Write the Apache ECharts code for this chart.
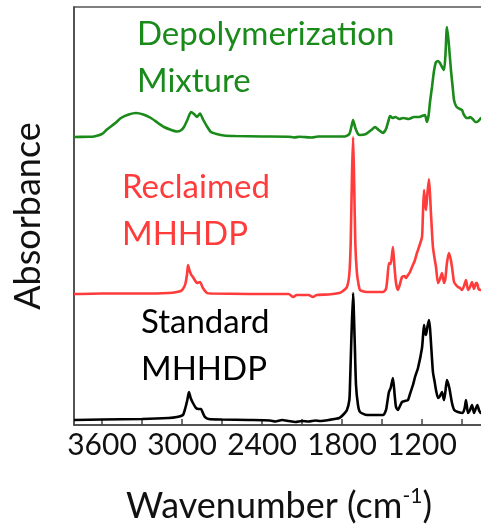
<!DOCTYPE html>
<html>
<head>
<meta charset="utf-8">
<script src="https://cdn.jsdelivr.net/npm/echarts@6/dist/echarts.min.js"></script>
<style>
  html, body { margin: 0; padding: 0; background: #fff; }
  #chart { width: 481px; height: 524px; }
</style>
</head>
<body>
<div id="chart"></div>
<script>
// tick labels on the wavenumber axis
var tickLabels = [3600, 3000, 2400, 1800, 1200];
var tickMarks = [900, 1200, 1500, 1800, 2100, 2400, 2700, 3000, 3300, 3600];

// spectra: [wavenumber, absorbance (arb.)], each relative to its own baseline
var mixture = [
	[3810,0],[3700,0.3],[3660,0.6],[3600,3],[3563,7.5],[3500,14],[3458,19],[3400,22.5],[3345,24],[3290,22.5],
	[3233,19],[3180,14],[3135,10],[3080,7],[3038,5.5],[3010,6.5],[2985,10],[2960,17],[2933,25],[2910,23],
	[2887,20],[2865,23.5],[2840,17],[2810,10],[2783,5],[2740,3],[2685,1.5],[2600,1],[2400,0.5],[2200,0.3],
	[2160,-0.5],[2120,0.3],[2025,-0.5],[1980,0.5],[1890,0.5],[1780,0.5],[1745,3],[1730,10],[1717,17],[1700,9],
	[1680,3],[1665,2],[1620,3],[1580,7],[1552,10],[1525,7],[1493,4],[1470,8],[1450,17],[1440,21],
	[1420,19],[1400,20],[1370,18],[1340,19],[1300,18],[1260,20],[1220,20],[1200,21],[1178,22],[1163,15],
	[1150,22],[1140,35],[1125,50],[1110,66],[1095,75],[1080,76],[1065,74],[1050,70],[1035,67],[1025,80],
	[1013,110],[1000,95],[983,67],[970,50],[960,37],[945,31],[930,29],[915,28],[900,27],[885,22],
	[863,19],[850,19],[840,20],[820,18],[800,15],[788,15],[770,17],[757,19],[735,19]
];
var reclaimed = [
	[3810,0],[3600,0.5],[3300,0.5],[3100,1],[3038,2],[3010,3],[2993,5],[2975,10],[2962,20],[2955,29],
	[2945,24],[2930,19],[2918,17],[2900,13],[2888,11],[2865,12],[2843,6],[2813,1],[2780,0.5],[2500,0],
	[2200,0],[2168,-3],[2140,-1],[2050,-1],[2018,-3],[1990,-1],[1900,-0.5],[1820,1],[1793,3],[1763,7],
	[1745,20],[1735,50],[1725,120],[1717,157],[1710,120],[1700,50],[1688,21],[1675,9],[1665,4],[1620,2],
	[1530,2],[1493,2],[1470,5],[1460,15],[1448,31],[1435,30],[1418,47],[1408,30],[1395,11],[1380,4],
	[1365,10],[1350,17],[1330,18],[1320,16],[1305,19],[1290,22],[1275,27],[1255,33],[1238,41],[1220,48],
	[1200,57],[1193,80],[1185,104],[1178,92],[1170,84],[1160,100],[1148,115],[1140,100],[1133,81],[1118,47],
	[1105,35],[1095,27],[1080,11],[1065,15],[1050,21],[1035,11],[1025,15],[1013,31],[998,41],[985,35],
	[975,27],[960,12],[945,9],[930,7],[915,6],[900,4],[885,8],[870,14],[855,4],[840,7],
	[825,12],[810,5],[795,11],[788,11],[775,5],[757,4],[735,5]
];
var standard = [
	[3810,0],[3600,0.5],[3300,1],[3100,2],[3038,3],[2993,5],[2975,12],[2960,20],[2948,28],[2935,22],
	[2918,17],[2895,12],[2875,11],[2858,11],[2840,6],[2828,3],[2800,1],[2700,0.5],[2500,0],[2340,-0.5],
	[2300,-1.5],[2250,0],[2200,-1],[2150,-2],[2100,-1],[2050,-1.5],[2000,-0.5],[1965,-1],[1900,0],[1820,2],
	[1793,5],[1763,10],[1745,20],[1740,35],[1730,80],[1717,127],[1705,80],[1695,35],[1680,15],[1665,8],
	[1613,5],[1493,5],[1470,10],[1460,18],[1448,28],[1435,32],[1418,42],[1405,25],[1395,13],[1380,10],
	[1365,14],[1350,18],[1330,19],[1305,20],[1290,26],[1268,35],[1250,44],[1230,52],[1200,72],[1192,85],
	[1185,95],[1178,88],[1170,85],[1160,93],[1148,100],[1140,92],[1133,78],[1118,48],[1105,38],[1095,30],
	[1080,22],[1065,24],[1050,28],[1035,20],[1025,28],[1013,40],[995,32],[975,17],[958,10],[930,8],
	[895,7],[880,12],[870,20],[855,7],[840,10],[825,15],[810,7],[795,12],[785,15],[770,9],
	[757,7],[735,8]
];
// vertical stacking offsets of the traces
var offsets = { mixture: 288, reclaimed: 131, standard: 5 };

function shift(arr, off) {
	return arr.map(function (p) { return [p[0], p[1] + off]; });
}

var FONT = 'Lato, "Open Sans", sans-serif';

var myChart = echarts.init(document.getElementById('chart'), null, { renderer: 'canvas' });
myChart.setOption({
	animation: false,
	grid: {
		left: 74, top: 7, right: -3, bottom: 99,
		outerBoundsMode: 'none',
		show: true, borderColor: '#555', borderWidth: 1.5
	},
	xAxis: {
		type: 'value',
		inverse: true,
		min: 735,
		max: 3810,
		name: 'Wavenumber (cm{s|-1})',
		nameLocation: 'middle',
		nameGap: 61,
		nameTextStyle: {
			color: '#111', fontSize: 36, fontFamily: FONT,
			rich: { s: { fontSize: 21, fontFamily: FONT, color: '#111', verticalAlign: 'top', padding: [0, 0, 20, 0] } }
		},
		axisLine: { lineStyle: { color: '#444', width: 1.5 } },
		axisTick: { inside: true, length: 6, customValues: tickMarks, lineStyle: { color: '#444', width: 1.5 } },
		axisLabel: {
			customValues: tickLabels, margin: 5, color: '#111', fontSize: 30, fontFamily: FONT,
			formatter: function (v) { return String(v); }
		},
		splitLine: { show: false }
	},
	yAxis: {
		type: 'value',
		min: 0,
		max: 418,
		name: 'Absorbance',
		nameLocation: 'middle',
		nameGap: 28,
		nameTextStyle: { color: '#111', fontSize: 36, fontFamily: FONT },
		axisLine: { show: true, lineStyle: { color: '#444', width: 1.5 } },
		axisTick: { show: false },
		axisLabel: { show: false },
		splitLine: { show: false }
	},
	graphic: [
		{ type: 'text', left: 137, top: 11, style: { text: 'Depolymerization\nMixture', fill: '#1a8a1a', font: '33px ' + FONT, lineHeight: 47 } },
		{ type: 'text', left: 122, top: 164, style: { text: 'Reclaimed\nMHHDP', fill: '#ff3b3b', font: '33px ' + FONT, lineHeight: 47 } },
		{ type: 'text', left: 141, top: 299, style: { text: 'Standard\nMHHDP', fill: '#000', font: '33px ' + FONT, lineHeight: 47 } }
	],
	series: [{
		name: 'Reclaimed MHHDP',
		type: 'line',
		showSymbol: false,
		smooth: 0.2,
		lineStyle: { color: '#ff3b3b', width: 2.6 },
		data: shift(reclaimed, offsets.reclaimed)
	}, {
		name: 'Depolymerization Mixture',
		type: 'line',
		showSymbol: false,
		smooth: 0.2,
		lineStyle: { color: '#1a8a1a', width: 2.6 },
		data: shift(mixture, offsets.mixture)
	}, {
		name: 'Standard MHHDP',
		type: 'line',
		showSymbol: false,
		smooth: 0.2,
		lineStyle: { color: '#000', width: 2.6 },
		data: shift(standard, offsets.standard)
	}]
});
</script>
</body>
</html>
